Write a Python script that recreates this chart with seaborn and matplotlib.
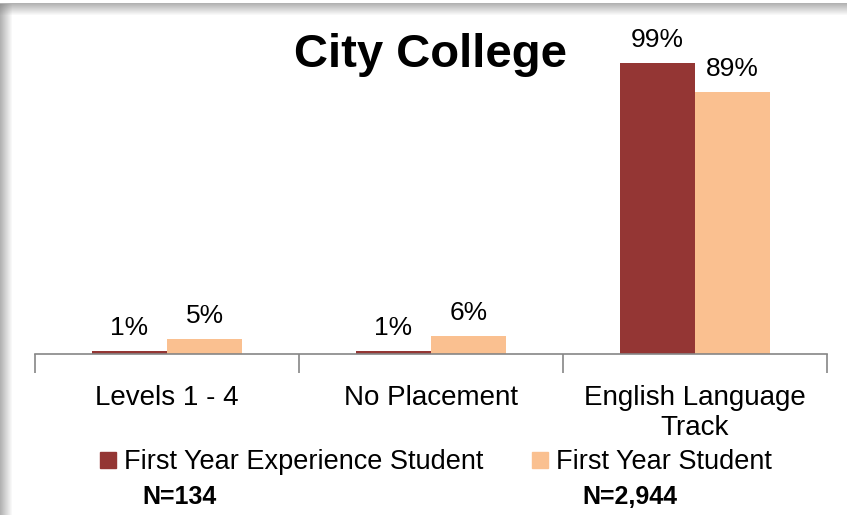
"""
City College placement chart
"""

import matplotlib
matplotlib.use("Agg")
import matplotlib.pyplot as plt
import seaborn as sns
import pandas as pd
import numpy as np
from matplotlib.lines import Line2D
from matplotlib.patches import Rectangle

categories = ["Levels 1 - 4", "No Placement", "English Language\nTrack"]
series_names = ["First Year Experience Student", "First Year Student"]
fye_values = [1, 1, 99]
fy_values = [5, 6, 89]
n_labels = ["N=134", "N=2,944"]

colors = ["#943634", "#FAC090"]

sns.set_theme(style="white")
plt.rcParams["font.family"] = ["Liberation Sans", "DejaVu Sans"]
plt.rcParams["text.color"] = "black"
plt.rcParams["xtick.color"] = "black"

rows = []
for cat, a, b in zip(categories, fye_values, fy_values):
    rows.append({"Category": cat, "Value": a, "Series": series_names[0]})
    rows.append({"Category": cat, "Value": b, "Series": series_names[1]})
df = pd.DataFrame(rows)

fig = plt.figure(figsize=(8.47, 5.15), dpi=100)
fig.patch.set_facecolor("white")

# grey shadow frame (top and left), like the pasted chart
for i in range(12):
    a = 0.6 * (1 - i / 12)
    fig.patches.append(Rectangle((0, 1 - (4 + i) / 515), 1, 1 / 515,
                                 transform=fig.transFigure, color="#7f7f7f",
                                 alpha=a, lw=0, zorder=0))
    fig.patches.append(Rectangle((i / 847, 0), 1 / 847, 1 - 4 / 515,
                                 transform=fig.transFigure, color="#7f7f7f",
                                 alpha=a, lw=0, zorder=0))

ax = fig.add_axes([35 / 847, 1 - 354 / 515, 792 / 847, 334 / 515])
sns.barplot(data=df, x="Category", y="Value", hue="Series", palette=colors,
            width=0.57, saturation=1, linewidth=0, ax=ax, legend=False)
ax.set_ylim(0, 113.6)
ax.set_xlim(-0.5, 2.5)

for container in ax.containers:
    ax.bar_label(container, labels=[f"{v:.0f}%" for v in container.datavalues],
                 padding=8, fontsize=19, color="black")

for s in ["top", "right", "left"]:
    ax.spines[s].set_visible(False)
ax.spines["bottom"].set_color("#868686")
ax.spines["bottom"].set_linewidth(1.2)
ax.set_yticks([])
ax.set_ylabel("")
ax.set_xlabel("")
ax.set_xticks(np.arange(-0.5, 3.0, 1.0), minor=True)
ax.tick_params(axis="x", which="minor", length=14, width=1.2, color="#868686",
               direction="out", bottom=True)
ax.tick_params(axis="x", which="major", length=0, pad=22, labelsize=20,
               labelcolor="black")

fig.text(430 / 847, 1 - 55 / 515, "City College", ha="center", va="center",
         fontsize=34, fontweight="bold", color="black")

handles = [Line2D([0], [0], marker="s", linestyle="", markersize=11,
                  markerfacecolor=c, markeredgecolor=c) for c in colors]
fig.legend(handles, series_names, loc="center", bbox_to_anchor=(436 / 847, 1 - 462 / 515),
           ncol=2, frameon=False, fontsize=19.5, handlelength=0.6, handletextpad=0.3,
           columnspacing=1.8, labelcolor="black")

fig.text(179 / 847, 1 - 497 / 515, n_labels[0], ha="center", va="center",
         fontsize=18, fontweight="bold", color="black")
fig.text(630 / 847, 1 - 497 / 515, n_labels[1], ha="center", va="center",
         fontsize=18, fontweight="bold", color="black")

fig.savefig("out.png", dpi=100, facecolor="white")
